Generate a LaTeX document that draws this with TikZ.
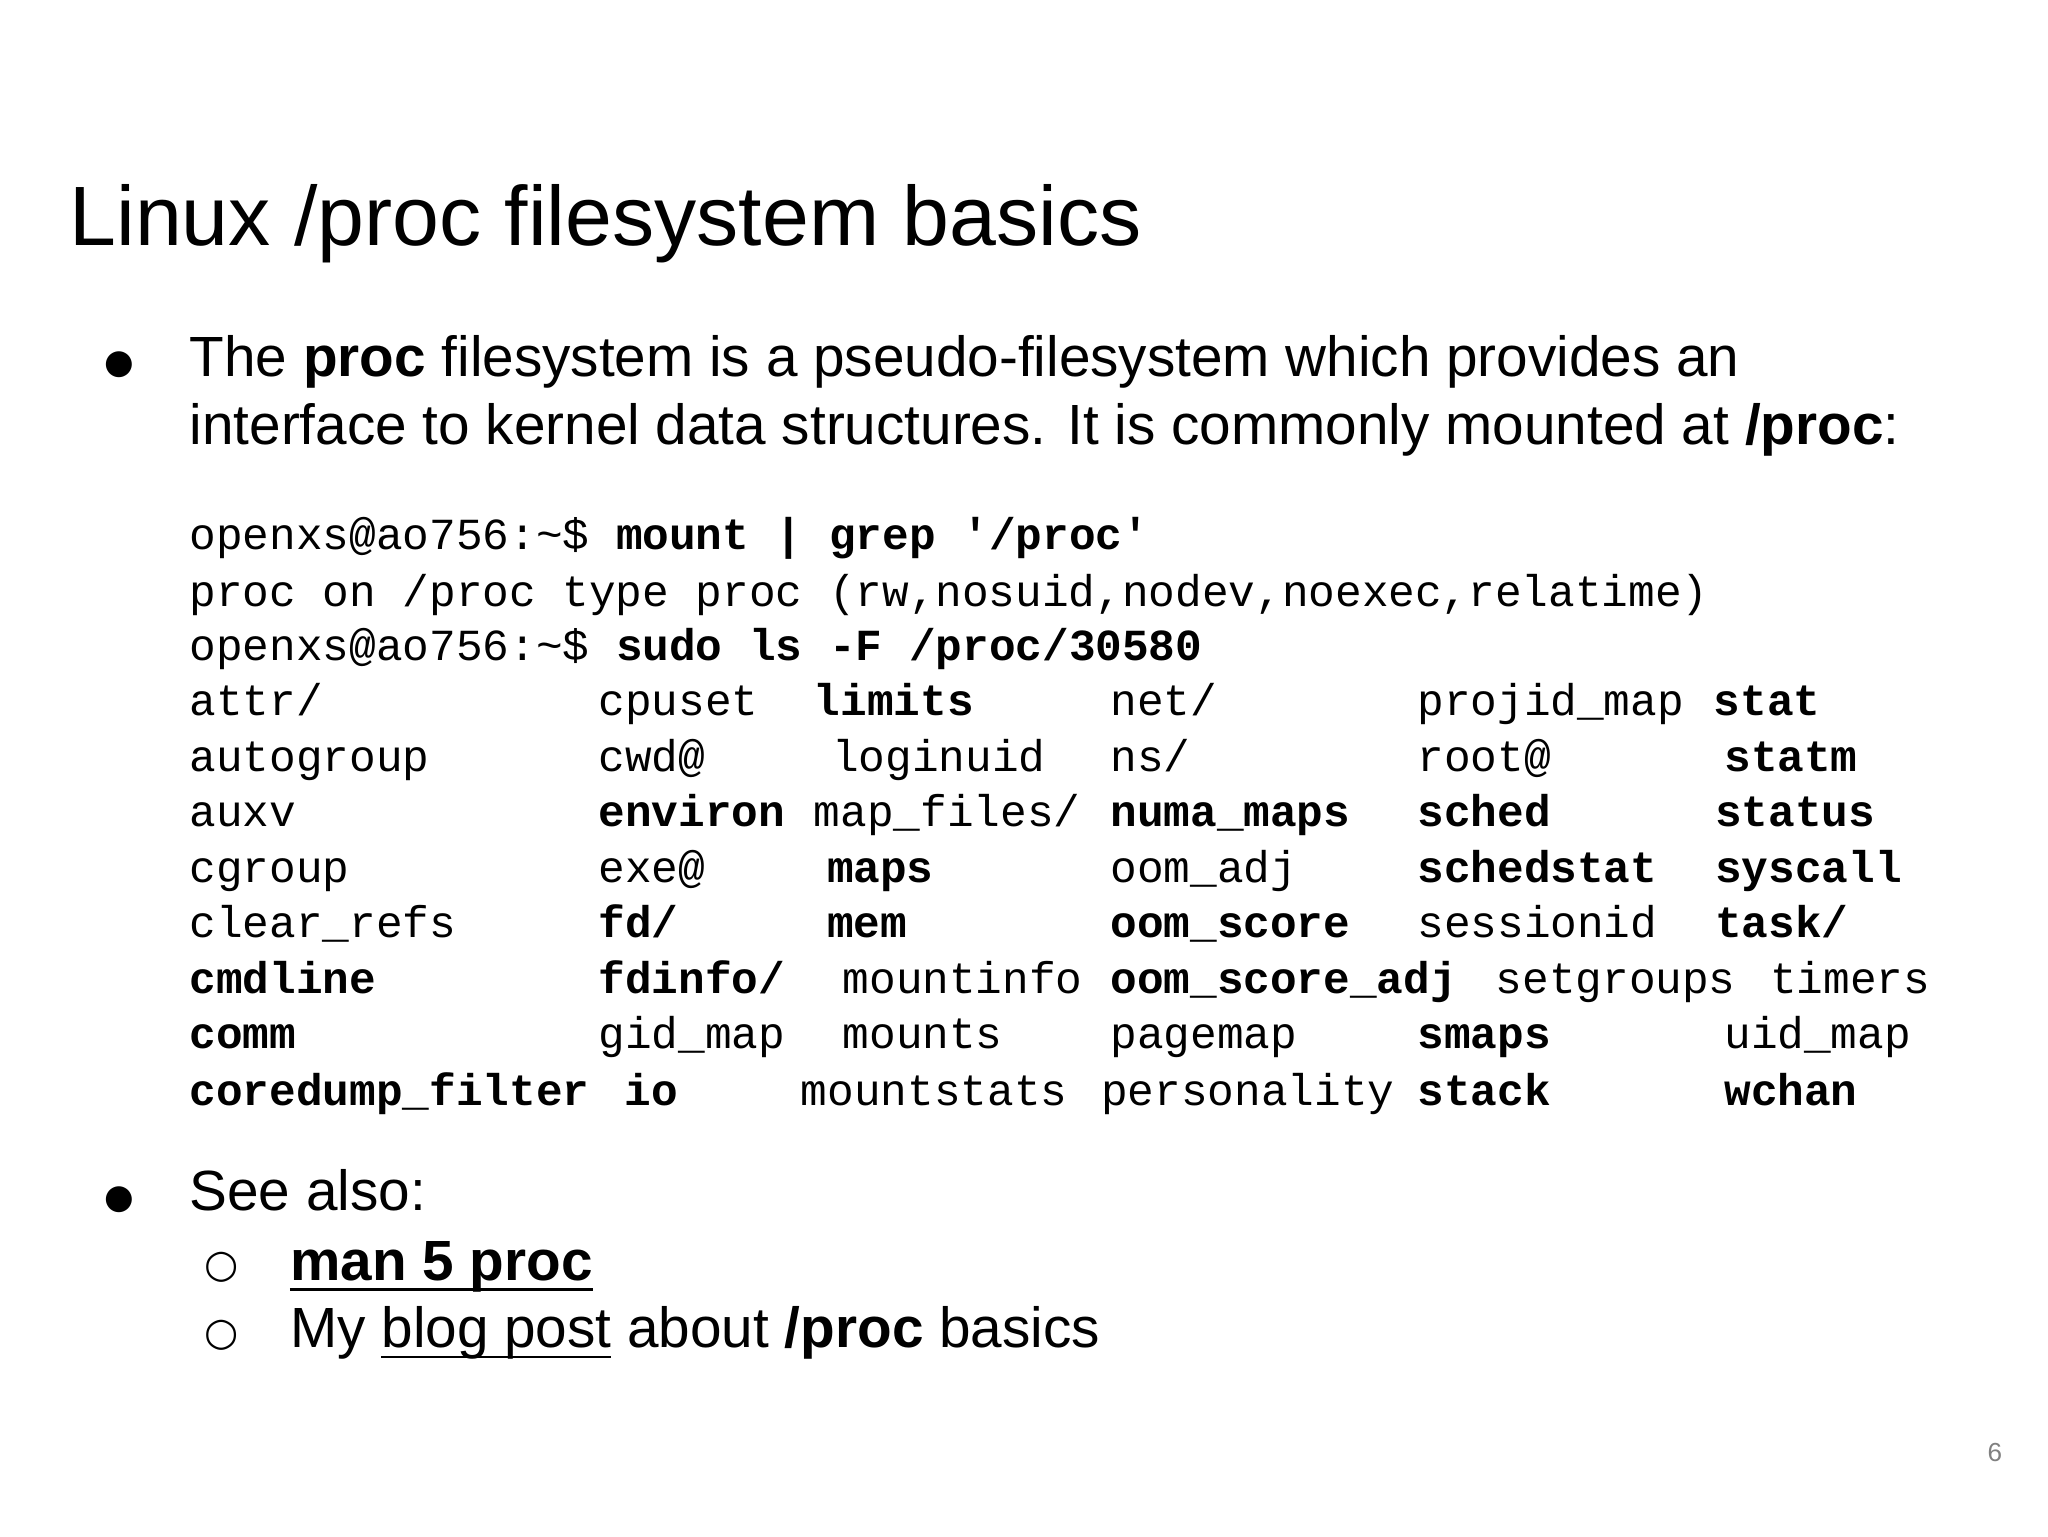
\documentclass[tikz,border=0pt]{standalone}
\usepackage{fontspec}
\setmainfont{Liberation Sans}
\newfontfamily\monof{Liberation Mono}
\newfontfamily\dejav{DejaVu Sans}
\begin{document}
\begin{tikzpicture}[x=1pt,y=-1pt]
\tikzset{m/.style={anchor=base west,inner sep=0pt,font=\fontsize{34}{34}\selectfont\monof},
 mb/.style={m,font=\fontsize{34}{34}\selectfont\monof\bfseries},
 t/.style={anchor=base west,inner sep=0pt,font=\fontsize{43.4}{43.4}\selectfont}}
\fill[white] (0,0) rectangle (1568,1176);
\node[anchor=base west,inner sep=0pt,font=\fontsize{64.5}{64.5}\selectfont] (title) at (53,188) {Linux /proc filesystem basics};
\node[anchor=base,inner sep=0pt,font=\fontsize{26}{26}\selectfont\dejav] (b1) at (91,286) {●};
\node[t] (l1) at (145,288) {The \textbf{proc} filesystem is a pseudo-filesystem which provides an};
\node[t] (l2) at (145,340) {interface to kernel data structures. It is commonly mounted at \textbf{/proc}:};
\node[m] (c1) at (145,421) {openxs@ao756:\string~\$ \textbf{mount | grep '/proc'}};
\node[m] (c2) at (145,464) {proc on /proc type proc (rw,nosuid,nodev,noexec,relatime)};
\node[m] (c3) at (145,506) {openxs@ao756:\string~\$ \textbf{sudo ls -F /proc/30580}};
\def\ya{548}\def\yb{591}\def\yc{633}\def\yd{676}\def\ye{718}\def\yf{761}\def\yg{803}\def\yh{846}
\node[m] (r1a) at (145,\ya) {attr/}; \node[m] (r1b) at (458,\ya) {cpuset}; \node[mb] (r1c) at (623,\ya) {limits}; \node[m] (r1d) at (850,\ya) {net/}; \node[m] (r1e) at (1085,\ya) {projid\_map}; \node[mb] (r1f) at (1312,\ya) {stat};
\node[m] (r2a) at (145,\yb) {autogroup}; \node[m] (r2b) at (458,\yb) {cwd@}; \node[m] (r2c) at (637,\yb) {loginuid}; \node[m] (r2d) at (850,\yb) {ns/}; \node[m] (r2e) at (1085,\yb) {root@}; \node[mb] (r2f) at (1320,\yb) {statm};
\node[m] (r3a) at (145,\yc) {auxv}; \node[mb] (r3b) at (458,\yc) {environ}; \node[m] (r3c) at (623,\yc) {map\_files/}; \node[mb] (r3d) at (850,\yc) {numa\_maps}; \node[mb] (r3e) at (1085,\yc) {sched}; \node[mb] (r3f) at (1313,\yc) {status};
\node[m] (r4a) at (145,\yd) {cgroup}; \node[m] (r4b) at (458,\yd) {exe@}; \node[mb] (r4c) at (633,\yd) {maps}; \node[m] (r4d) at (850,\yd) {oom\_adj}; \node[mb] (r4e) at (1085,\yd) {schedstat}; \node[mb] (r4f) at (1313,\yd) {syscall};
\node[m] (r5a) at (145,\ye) {clear\_refs}; \node[mb] (r5b) at (458,\ye) {fd/}; \node[mb] (r5c) at (633,\ye) {mem}; \node[mb] (r5d) at (850,\ye) {oom\_score}; \node[m] (r5e) at (1085,\ye) {sessionid}; \node[mb] (r5f) at (1313,\ye) {task/};
\node[mb] (r6a) at (145,\yf) {cmdline}; \node[mb] (r6b) at (458,\yf) {fdinfo/}; \node[m] (r6c) at (645,\yf) {mountinfo}; \node[mb] (r6d) at (850,\yf) {oom\_score\_adj}; \node[m] (r6e) at (1145,\yf) {setgroups}; \node[m] (r6f) at (1355,\yf) {timers};
\node[mb] (r7a) at (145,\yg) {comm}; \node[m] (r7b) at (458,\yg) {gid\_map}; \node[m] (r7c) at (645,\yg) {mounts}; \node[m] (r7d) at (850,\yg) {pagemap}; \node[mb] (r7e) at (1085,\yg) {smaps}; \node[m] (r7f) at (1320,\yg) {uid\_map};
\node[mb] (r8a) at (145,\yh) {coredump\_filter}; \node[mb] (r8b) at (478,\yh) {io}; \node[m] (r8c) at (613,\yh) {mountstats}; \node[m] (r8d) at (843,\yh) {personality}; \node[mb] (r8e) at (1085,\yh) {stack}; \node[mb] (r8f) at (1320,\yh) {wchan};
\node[anchor=base,inner sep=0pt,font=\fontsize{26}{26}\selectfont\dejav] (b2) at (91,925) {●};
\node[t] (s1) at (145,927) {See also:};
\node[anchor=base,inner sep=0pt,font=\fontsize{30}{30}\selectfont\dejav] (o1) at (170,978) {○};
\node[t] (s2) at (222,980) {\textbf{man 5 proc}};
\coordinate (v1) at (222,987); \coordinate (v2) at (454,987);
\draw[line width=2.5pt] (v1) -- (v2);
\node[anchor=base,inner sep=0pt,font=\fontsize{30}{30}\selectfont\dejav] (o2) at (170,1030) {○};
\node[t] (s3) at (222,1032) {My blog post about \textbf{/proc} basics};
\coordinate (u1) at (292,1039); \coordinate (u2) at (468,1039);
\draw[line width=2pt] (u1) -- (u2);
\node[anchor=base east,inner sep=0pt,font=\fontsize{20}{20}\selectfont,text=gray] (pg) at (1533,1119) {6};
\end{tikzpicture}
\end{document}
